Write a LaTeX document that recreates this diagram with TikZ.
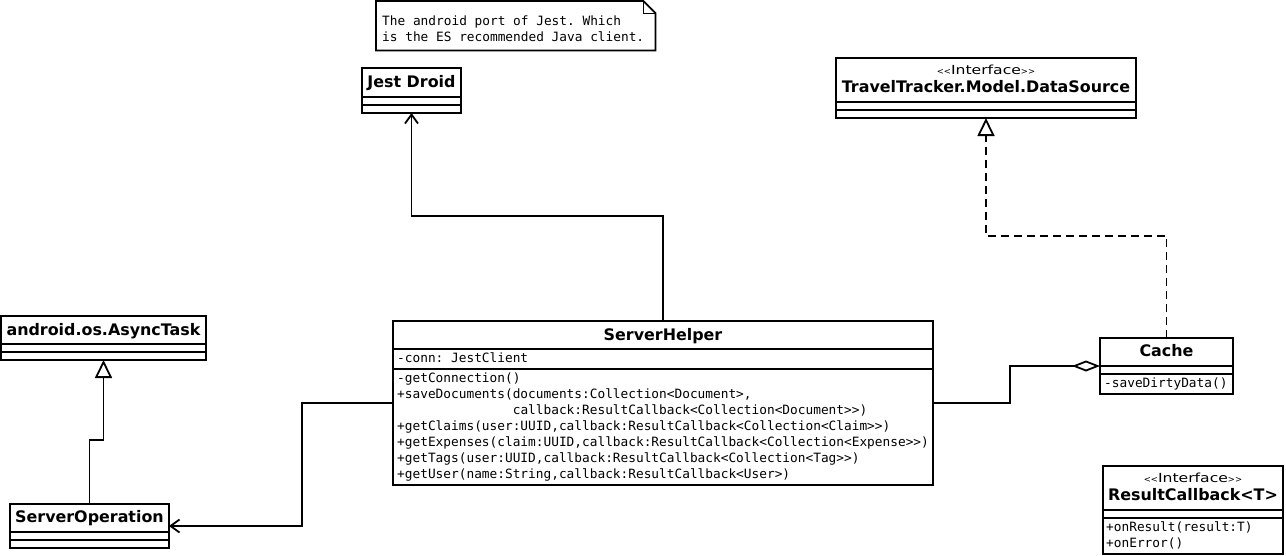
\documentclass[tikz,border=0pt]{standalone}
\usepackage{fontspec}
\setmainfont{DejaVu Sans}
\setmonofont{DejaVu Sans Mono}
\usetikzlibrary{arrows.meta}
\newcommand{\sterI}{{\fontsize{8.5}{10}\selectfont<\kern0pt<}\scalebox{1.25}[1]{Interface}{\fontsize{8.5}{10}\selectfont>\kern0pt>}}
\begin{document}
\begin{tikzpicture}[x=1pt,y=-1pt,
  ln/.style={line width=1.8pt},
  box/.style={draw,line width=1.8pt,anchor=north west,inner sep=0pt,outer sep=0pt},
  ttl/.style={font=\fontsize{15.9}{18}\selectfont\bfseries,inner sep=0pt,anchor=base},
  ster/.style={font=\fontsize{12.5}{14}\selectfont,inner sep=0pt,anchor=base},
  mono/.style={font=\ttfamily\fontsize{12.8}{16}\selectfont,inner sep=0pt,anchor=base west},
  conn/.style={line width=1.8pt},
  realize/.style={dash pattern=on 8pt off 5pt},
  opentri/.style={-{Triangle[open,length=18pt,width=17pt,fill=white]}},
  openarr/.style={-{Straight Barb[length=9pt,width=13pt]}},
  aggr/.style={-{Diamond[open,length=28pt,width=11pt,fill=white]}},
]
\useasboundingbox (0,0) rectangle (1286,555);

% Note
\node[anchor=north west,inner sep=0pt,minimum width=279pt,minimum height=49pt] (note) at (376,1) {};
\draw[ln] (note.north west) -- ([xshift=-12pt]note.north east) -- ([yshift=-12pt]note.north east) -- (note.south east) -- (note.south west) -- cycle;
\draw[line width=1pt] ([xshift=-12pt]note.north east) -- ([xshift=-12pt,yshift=-12pt]note.north east) -- ([yshift=-12pt]note.north east);
\node[mono] (note-l1) at (382,25.5) {The android port of Jest. Which};
\node[mono] (note-l2) at (382,41.5) {is the ES recommended Java client.};

% Jest Droid
\node[box,minimum width=99pt,minimum height=45pt] (jd) at (362,68) {};
\draw[ln] ([yshift=-29pt]jd.north west) -- ([yshift=-29pt]jd.north east);
\draw[ln] ([yshift=-37pt]jd.north west) -- ([yshift=-37pt]jd.north east);
\node[ttl] (jd-t) at (411.5,87.5) {Jest Droid};

% DataSource
\node[box,minimum width=300pt,minimum height=60pt] (ds) at (836,58) {};
\draw[ln] ([yshift=-44pt]ds.north west) -- ([yshift=-44pt]ds.north east);
\draw[ln] ([yshift=-52pt]ds.north west) -- ([yshift=-52pt]ds.north east);
\node[ster] (ds-s) at (986,74.5) {\sterI};
\node[ttl] (ds-t) at (986,92.5) {TravelTracker.Model.DataSource};

% AsyncTask
\node[box,minimum width=205pt,minimum height=44pt] (at) at (1,316) {};
\draw[ln] ([yshift=-28pt]at.north west) -- ([yshift=-28pt]at.north east);
\draw[ln] ([yshift=-36pt]at.north west) -- ([yshift=-36pt]at.north east);
\node[ttl] (at-t) at (103.5,335.5) {android.os.AsyncTask};

% ServerOperation
\node[box,minimum width=159pt,minimum height=44pt] (so) at (10,504) {};
\draw[ln] ([yshift=-28pt]so.north west) -- ([yshift=-28pt]so.north east);
\draw[ln] ([yshift=-36pt]so.north west) -- ([yshift=-36pt]so.north east);
\node[ttl] (so-t) at (89.5,522.5) {ServerOperation};

% ServerHelper
\node[box,minimum width=540pt,minimum height=164pt] (sh) at (393,321) {};
\draw[ln] ([yshift=-28pt]sh.north west) -- ([yshift=-28pt]sh.north east);
\draw[ln] ([yshift=-48pt]sh.north west) -- ([yshift=-48pt]sh.north east);
\node[ttl] (sh-t) at (663,340.5) {ServerHelper};
\node[mono] (sh-a) at (397,362.5) {-conn: JestClient};
\node[mono] (sh-m1) at (397,382.5) {-getConnection()};
\node[mono] (sh-m2) at (397,398.5) {+saveDocuments(documents:Collection<Document>,};
\node[mono] (sh-m3) at (397,414.5) {\hphantom{+saveDocuments(}callback:ResultCallback<Collection<Document>>)};
\node[mono] (sh-m4) at (397,430.5) {+getClaims(user:UUID,callback:ResultCallback<Collection<Claim>>)};
\node[mono] (sh-m5) at (397,446.5) {+getExpenses(claim:UUID,callback:ResultCallback<Collection<Expense>>)};
\node[mono] (sh-m6) at (397,462.5) {+getTags(user:UUID,callback:ResultCallback<Collection<Tag>>)};
\node[mono] (sh-m7) at (397,478.5) {+getUser(name:String,callback:ResultCallback<User>)};

% Cache
\node[box,minimum width=133pt,minimum height=56pt] (ca) at (1100,338) {};
\draw[ln] ([yshift=-28pt]ca.north west) -- ([yshift=-28pt]ca.north east);
\draw[ln] ([yshift=-36pt]ca.north west) -- ([yshift=-36pt]ca.north east);
\node[ttl] (ca-t) at (1166.5,356.5) {Cache};
\node[mono] (ca-m) at (1104,387.5) {-saveDirtyData()};

% ResultCallback
\node[box,minimum width=180pt,minimum height=88pt] (rc) at (1103,466) {};
\draw[ln] ([yshift=-44pt]rc.north west) -- ([yshift=-44pt]rc.north east);
\draw[ln] ([yshift=-52pt]rc.north west) -- ([yshift=-52pt]rc.north east);
\node[ster] (rc-s) at (1193,482.5) {\sterI};
\node[ttl] (rc-t) at (1193,500.5) {ResultCallback<T>};
\node[mono] (rc-m1) at (1106,531.5) {+onResult(result:T)};
\node[mono] (rc-m2) at (1106,547.5) {+onError()};

% Connectors
\draw[conn,openarr] (sh.north) -- ++(0,-105) -| (jd.south);
\draw[conn,realize,opentri] (ca.north) -- ++(0,-102) -| (ds.south);
\draw[conn,aggr] (sh.east) -- ++(77,0) |- (ca.west);
\draw[conn,openarr] (sh.west) -- ++(-91,0) |- (so.east);
\draw[conn,opentri] (so.north) -- ++(0,-64) -| (at.south);
\end{tikzpicture}
\end{document}
